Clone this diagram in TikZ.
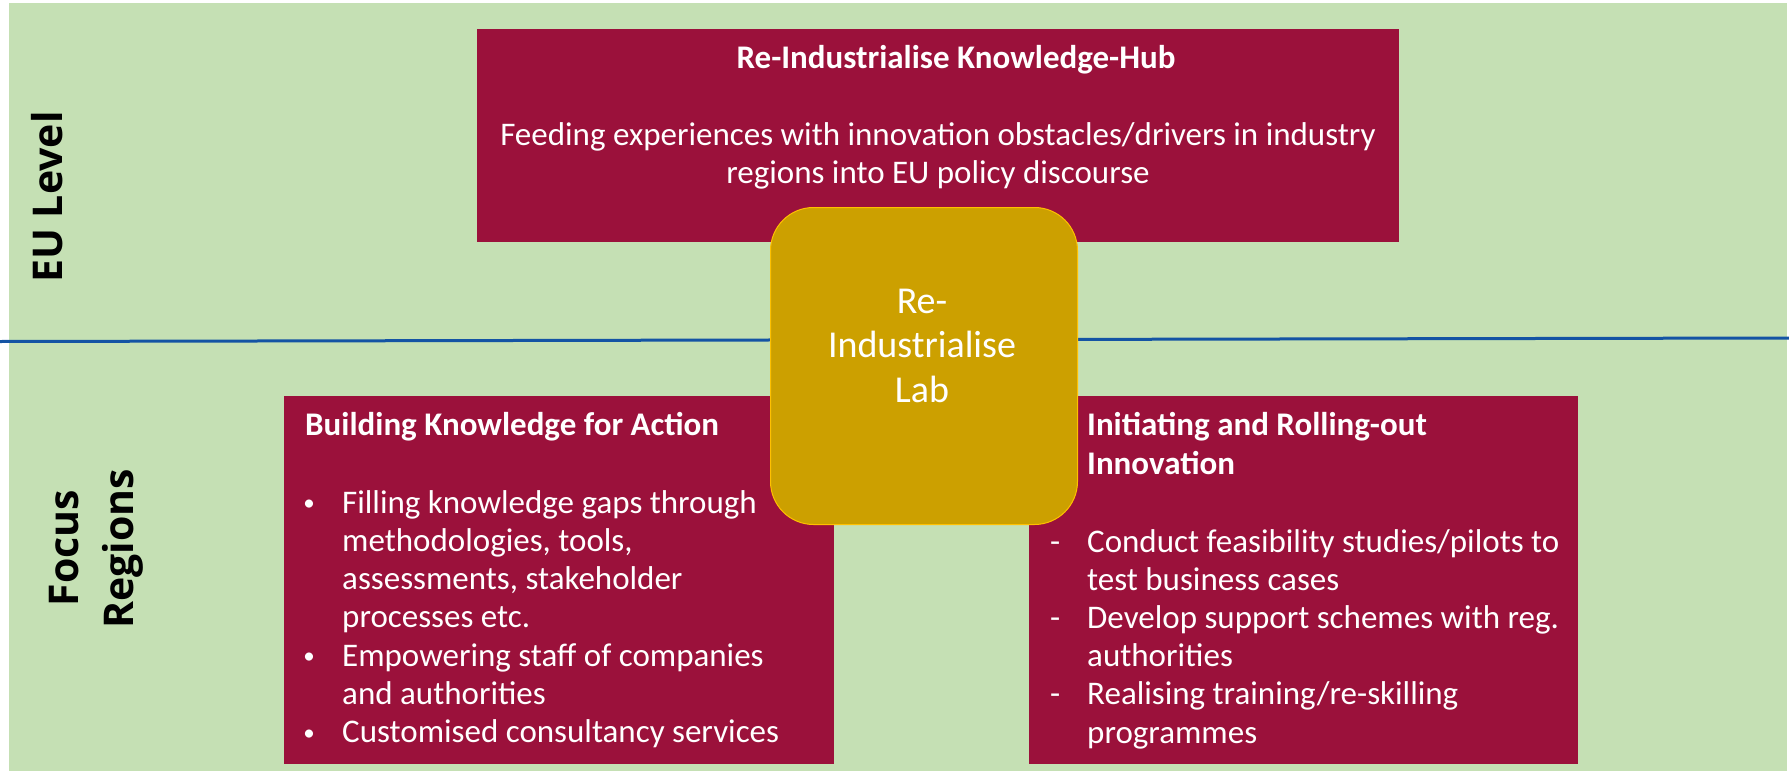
\documentclass[tikz,border=0pt]{standalone}
\usepackage{fontspec}
\setmainfont{Carlito}
\newfontfamily\lvlfont{Open Sans}
\definecolor{bgGreen}{RGB}{197,224,180}
\definecolor{boxMaroon}{RGB}{155,17,59}
\definecolor{labGold}{RGB}{204,160,0}
\definecolor{labEdge}{RGB}{255,192,0}
\definecolor{divBlue}{RGB}{20,84,164}
\newcommand{\leftblock}[2]{\vtop{\baselineskip=#1\lineskiplimit=-\maxdimen\halign{##\hfil\cr#2\crcr}}}
\newcommand{\centerblock}[2]{\vtop{\baselineskip=#1\lineskiplimit=-\maxdimen\halign{\hfil##\hfil\cr#2\crcr}}}
\newcommand{\bul}{\llap{\makebox[66pt]{\raisebox{2.5pt}{\fontsize{23}{23}\selectfont •}}}}
\newcommand{\dsh}{\llap{\makebox[64pt]{-}}}
\tikzset{
  mbox/.style={fill=boxMaroon, draw=none, rectangle, inner sep=0pt, anchor=north west},
  labbox/.style={fill=labGold, draw=labEdge, line width=1pt, rectangle, rounded corners=43pt, inner sep=0pt, anchor=north west},
  txt/.style={text=white, inner sep=0pt, font=\fontsize{33}{38.3}\selectfont},
  labtxt/.style={text=white, inner sep=0pt, font=\fontsize{38}{44.5}\selectfont},
  lvl/.style={text=black, inner sep=0pt, rotate=90, anchor=base, font=\lvlfont\bfseries\fontsize{41}{50}\selectfont},
  divider/.style={draw=divBlue, line width=3pt}
}
\begin{document}
\begin{tikzpicture}[x=1pt,y=-1pt]
\useasboundingbox (0,0) rectangle (1789,771);
\fill[white] (0,0) rectangle (1789,771);
\fill[bgGreen] (9,3) rectangle (1787,771);
% divider
\coordinate (divL) at (0,341.5);
\coordinate (divR) at (1789,338);
\draw[divider] (divL) -- (divR);
% level labels
\node[lvl] (eu) at (62,197) {EU Level};
\node[lvl] (focus) at (78,548) {Focus};
\node[lvl] (regions) at (133,549) {Regions};
% knowledge hub
\node[mbox, minimum width=922pt, minimum height=213.5pt] (hub) at (477,28.5) {};
\node[txt, anchor=base] (hubtitle) at (956,68) {\bfseries Re-Industrialise Knowledge-Hub};
\node[txt, anchor=base] (hubbody) at (938,145) {\centerblock{38pt}{Feeding experiences with innovation obstacles/drivers in industry\cr regions into EU policy discourse}};
% building knowledge
\node[mbox, minimum width=550pt, minimum height=368pt] (bk) at (284,396) {};
\node[txt, anchor=base west] (bktitle) at (305,435) {\bfseries Building Knowledge for Action};
\node[txt, anchor=base west] (bklist) at (342,513) {\leftblock{38.3pt}{\bul Filling knowledge gaps through\cr methodologies, tools,\cr assessments, stakeholder\cr processes etc.\cr \bul Empowering staff of companies\cr and authorities\cr \bul Customised consultancy services}};
% initiating innovation
\node[mbox, minimum width=549pt, minimum height=368pt] (ir) at (1029,396) {};
\node[txt, anchor=base west] (irtitle) at (1087,435) {\bfseries\leftblock{39.5pt}{Initiating and Rolling-out\cr Innovation}};
\node[txt, anchor=base west] (irlist) at (1087,552) {\leftblock{38.2pt}{\dsh Conduct feasibility studies/pilots to\cr test business cases\cr \dsh Develop support schemes with reg.\cr authorities\cr \dsh Realising training/re-skilling\cr programmes}};
% lab
\node[labbox, minimum width=307pt, minimum height=317pt] (lab) at (770,207) {};
\node[labtxt, anchor=base] (labtext) at (922,313) {\centerblock{44.5pt}{Re-\cr Industrialise\cr Lab}};
\end{tikzpicture}
\end{document}
